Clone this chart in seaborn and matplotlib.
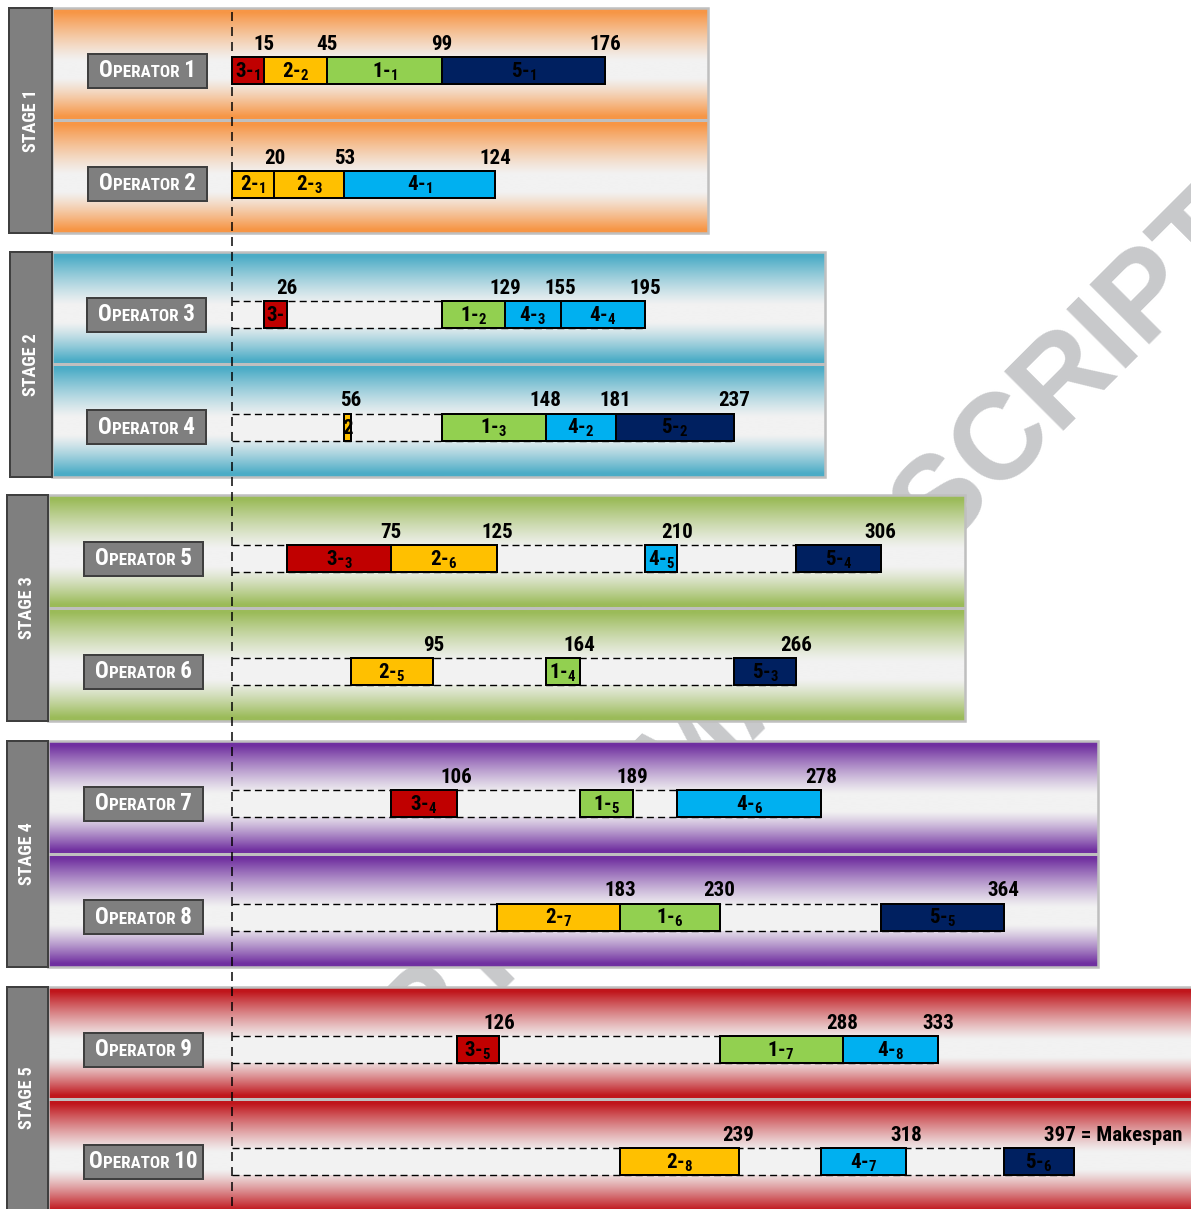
import numpy as np
import pandas as pd
import matplotlib
matplotlib.use("Agg")
import matplotlib.pyplot as plt
import seaborn as sns
from matplotlib import font_manager
from matplotlib.colors import to_rgb
from matplotlib.patches import Rectangle
from matplotlib.offsetbox import TextArea, HPacker, AnnotationBbox

# ---- schedule data ----
stages = ["STAGE 1", "STAGE 2", "STAGE 3", "STAGE 4", "STAGE 5"]
stage_colors = ["#F79646", "#4BACC6", "#9BBB59", "#7030A0", "#C0161C"]
operators = [1, 2, 3, 4, 5, 6, 7, 8, 9, 10]

job_colors = {1: "#92D050", 2: "#FFC000", 3: "#C00000", 4: "#00B0F0", 5: "#002060"}

task_op = [1, 1, 1, 1, 2, 2, 2, 3, 3, 3, 3, 4, 4, 4, 4, 5, 5, 5, 5,
           6, 6, 6, 7, 7, 7, 8, 8, 8, 9, 9, 9, 10, 10, 10]
task_job = [3, 2, 1, 5, 2, 2, 4, 3, 1, 4, 4, 2, 1, 4, 5, 3, 2, 4, 5,
            2, 1, 5, 3, 1, 4, 2, 1, 5, 3, 1, 4, 2, 4, 5]
task_label = ["3-1", "2-2", "1-1", "5-1", "2-1", "2-3", "4-1",
              "3-", "1-2", "4-3", "4-4", "2", "1-3", "4-2", "5-2",
              "3-3", "2-6", "4-5", "5-4", "2-5", "1-4", "5-3",
              "3-4", "1-5", "4-6", "2-7", "1-6", "5-5",
              "3-5", "1-7", "4-8", "2-8", "4-7", "5-6"]
task_start = [0, 15, 45, 99, 0, 20, 53, 15, 99, 129, 155, 53, 99, 148, 181,
              26, 75, 195, 266, 56, 148, 237, 75, 164, 210, 125, 183, 306,
              106, 230, 288, 183, 278, 364]
task_end = [15, 45, 99, 176, 20, 53, 124, 26, 129, 155, 195, 56, 148, 181, 237,
            75, 125, 210, 306, 95, 164, 266, 106, 189, 278, 183, 230, 364,
            126, 288, 333, 239, 318, 397]
makespan = 397

tasks = pd.DataFrame({"op": task_op, "job": task_job, "label": task_label,
                      "start": task_start, "end": task_end})

# ---- layout (pixels of the 1191x1209 picture) ----
W, H = 1191, 1209
X0, S = 232, 2.12          # pixel of t=0 and pixels per time unit
BAR_H = 27
row_center = [70.5, 184, 314.5, 427, 558.5, 671.5, 803.5, 917, 1049.5, 1161.5]
stage_box = [(9, 52, 8, 233), (10, 52, 252, 477), (7, 48, 495, 721),
             (7, 48, 741, 967), (7, 48, 987, 1214)]
panel_right = [708, 825, 965, 1098, 1196]
row_split = [120, 364, 608, 854, 1099]
op_box_left = [88, 88, 87, 87, 84, 84, 84, 84, 84, 84]


def tx(px):
    return (px - X0) / S


# pick a narrow bold face if one is installed
names = {f.name for f in font_manager.fontManager.ttflist}
narrow = next((n for n in ["Liberation Sans Narrow", "Roboto Condensed",
                           "Open Sans Condensed", "Roboto"] if n in names),
              "DejaVu Sans")

sns.set_theme(style="white")
plt.rcParams["font.family"] = [narrow, "DejaVu Sans"]
plt.rcParams["font.stretch"] = "condensed"
plt.rcParams["text.color"] = "black"
plt.rcParams["mathtext.fontset"] = "custom"
plt.rcParams["mathtext.bf"] = f"{narrow}:bold"
plt.rcParams["mathtext.rm"] = f"{narrow}:bold"
plt.rcParams["mathtext.default"] = "bf"

fig = plt.figure(figsize=(W / 72, H / 72), dpi=72)
ax = fig.add_axes([0, 0, 1, 1])


def row_gradient(color, y0, y1, yc, n=300):
    ys = np.linspace(y0, y1, n)
    d = np.where(ys < yc, (yc - ys) / (yc - y0), (ys - yc) / (y1 - yc))
    f = np.clip((d - 0.15) / 0.78, 0, 1) ** 1.2
    c = np.array(to_rgb(color))
    w = np.array(to_rgb("#F2F2F2"))
    return (w + f[:, None] * (c - w))[:, None, :]


# watermark behind everything
ax.text(tx(1255), 240, "ACCEPTED MANUSCRIPT", rotation=45, rotation_mode="anchor",
        ha="right", va="baseline", fontsize=122, color="#C8C9CB",
        fontweight="bold", family="Liberation Sans", fontstretch="normal",
        zorder=0, clip_on=True)

# stage panels
for s, name in enumerate(stages):
    bx0, bx1, y0, y1 = stage_box[s]
    left, right, split = bx1, panel_right[s], row_split[s]
    for k, (ra, rb) in enumerate([(y0, split), (split, y1)]):
        yc = row_center[2 * s + k]
        ax.imshow(row_gradient(stage_colors[s], ra, rb, yc),
                  extent=[tx(left), tx(right), rb, ra], aspect="auto",
                  interpolation="bilinear", zorder=1)
    ax.add_patch(Rectangle((tx(left), y0), tx(right) - tx(left), y1 - y0,
                           fill=False, edgecolor="#BFBFBF", lw=2.5, zorder=2))
    ax.hlines(split, tx(left), tx(right), color="#BFBFBF", lw=3, zorder=2)
    ax.add_patch(Rectangle((tx(bx0), y0), tx(bx1) - tx(bx0), y1 - y0,
                           facecolor="#7F7F7F", edgecolor="#3F3F3F", lw=2, zorder=3))
    ax.text(tx((bx0 + bx1) / 2), (y0 + min(y1, H)) / 2, name, rotation=90,
            ha="center", va="center", color="white", fontsize=18,
            fontweight="bold", zorder=4)

# operator name boxes
for i, op in enumerate(operators):
    yc = row_center[i]
    ax.add_patch(Rectangle((tx(op_box_left[i]), yc - 17), 119 / S, 34,
                           facecolor="#7F7F7F", edgecolor="#3F3F3F", lw=2, zorder=4))
    big = dict(color="white", fontsize=23, fontweight="bold")
    small = dict(color="white", fontsize=17, fontweight="bold")
    pack = HPacker(children=[TextArea("O", textprops=big),
                             TextArea("PERATOR", textprops=small),
                             TextArea(f" {op}", textprops=big)],
                   align="baseline", pad=0, sep=0)
    ab = AnnotationBbox(pack, (tx(op_box_left[i] + 59.5), yc), frameon=False,
                        box_alignment=(0.5, 0.5), pad=0, zorder=5)
    ax.add_artist(ab)

# idle lanes with dashed borders
for i, op in enumerate(operators):
    sub = tasks[tasks.op == op]
    if sub.start.min() == 0:
        continue
    yc = row_center[i]
    top, bot = yc - BAR_H / 2, yc + BAR_H / 2
    ax.add_patch(Rectangle((0, top), sub.end.max(), BAR_H, facecolor="#F2F2F2",
                           edgecolor="none", zorder=3))
    ax.hlines([top, bot], 0, sub.end.max(), colors="black", lw=1.4,
              linestyles=(0, (5, 3)), zorder=4)

# task bars
for _, t in tasks.iterrows():
    i = operators.index(t.op)
    yc = row_center[i]
    bars = ax.barh(yc, t.end - t.start, left=t.start, height=BAR_H,
                   color=job_colors[t.job], edgecolor="black", lw=2, zorder=5)
    if "-" in t.label:
        head, tail = t.label.split("-")
        txt = f"{head}-" + (f"$_{{{tail}}}$" if tail else "")
    else:
        txt = t.label
    lab = ax.text((t.start + t.end) / 2, yc + 1, txt, ha="center", va="center",
                  fontsize=21, fontweight="bold", color="black", zorder=6)
    lab.set_clip_path(bars.patches[0])
    if t.end == makespan:
        ax.annotate(f"{t.end} = Makespan", (t.end, yc - BAR_H / 2 - 3),
                    xytext=(-30, 0), textcoords="offset points", ha="left",
                    va="bottom", fontsize=21, fontweight="bold", color="black",
                    zorder=6)
    else:
        ax.text(t.end, yc - BAR_H / 2 - 3, str(t.end), ha="center", va="bottom",
                fontsize=21, fontweight="bold", color="black", zorder=6)

# time-zero reference line
ax.vlines(0, 12, H, colors="black", lw=1.5, linestyles=(0, (6, 4)), zorder=7)

ax.set_xlim(tx(0), tx(W))
ax.set_ylim(H, 0)
ax.axis("off")
fig.savefig("out.png", dpi=72)
